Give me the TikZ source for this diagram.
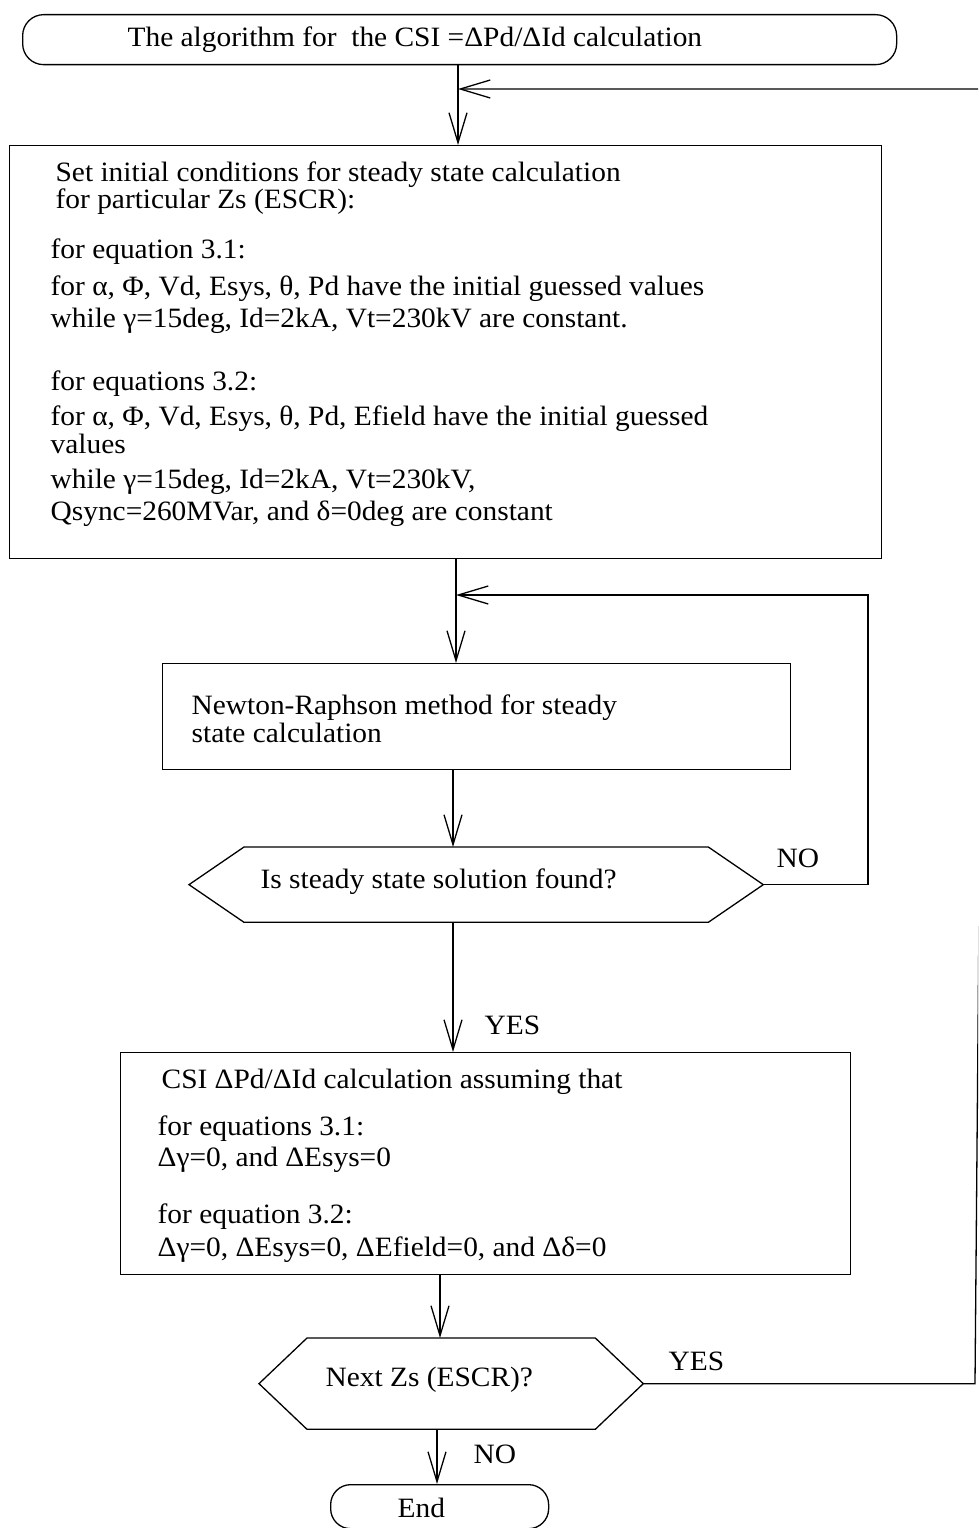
\documentclass[tikz,border=0pt]{standalone}
\usepackage{fontspec}
\setmainfont{Liberation Serif}[FakeStretch=1.05]
\usetikzlibrary{arrows.meta}
\begin{document}
\begin{tikzpicture}[x=1pt,y=-1pt,line width=1.3pt,
  arr/.style={-{Straight Barb[length=30pt,width=18pt]}},
  boxnode/.style={draw,rectangle,inner sep=0pt,anchor=north west},
  termnode/.style={draw,rectangle,rounded corners=21pt,inner sep=0pt,anchor=north west},
  hexnode/.style={rectangle,inner sep=0pt,anchor=north west},
  txt/.style={anchor=base west,inner sep=0pt,font=\fontsize{28}{30}\selectfont}]
\useasboundingbox (0,0) rectangle (978,1528);
\clip (0,0) rectangle (978,1528);

% start terminal
\node[termnode,minimum width=874pt,minimum height=50pt] (start) at (22,14) {};
\node[txt] (starttxt) at (127,47) {The algorithm for\ \ the CSI =ΔPd/ΔId calculation};

% initial conditions box
\node[boxnode,minimum width=872pt,minimum height=413pt] (setbox) at (9,145) {};
\foreach \yy/\xx/\tx [count=\i] in {
  181/55/{Set initial conditions for steady state calculation},
  208/55/{for particular Zs (ESCR):},
  258/50/{for equation 3.1:},
  295/50/{for α, Φ, Vd, Esys, θ, Pd have the initial guessed values},
  327/50/{while γ=15deg, Id=2kA, Vt=230kV are constant.},
  390/50/{for equations 3.2:},
  425/50/{for α, Φ, Vd, Esys, θ, Pd, Efield have the initial guessed},
  453/50/{values},
  488/50/{while γ=15deg, Id=2kA, Vt=230kV,},
  520/50/{Qsync=260MVar, and δ=0deg are constant}}
  \node[txt] (set\i) at (\xx,\yy) {\tx};

% Newton-Raphson box
\node[boxnode,minimum width=628pt,minimum height=106pt] (nrbox) at (162,663) {};
\node[txt] (nr1) at (191,714) {Newton-Raphson method for steady};
\node[txt] (nr2) at (191,742) {state calculation};

% decision 1
\node[hexnode,minimum width=573pt,minimum height=74pt] (q1) at (189,847) {};
\draw (q1.west) -- ([xshift=55pt]q1.north west) -- ([xshift=-55pt]q1.north east)
  -- (q1.east) -- ([xshift=-55pt]q1.south east) -- ([xshift=55pt]q1.south west) -- cycle;
\node[txt] (q1txt) at (260,888) {Is steady state solution found?};
\node[txt] (no1) at (776,867) {NO};
\node[txt] (yes1) at (484,1034) {YES};

% CSI box
\node[boxnode,minimum width=730pt,minimum height=222pt] (csibox) at (120,1052) {};
\foreach \yy/\xx/\tx [count=\i] in {
  1088/161/{CSI ΔPd/ΔId calculation assuming that},
  1135/157/{for equations 3.1:},
  1166/157/{Δγ=0, and ΔEsys=0},
  1223/157/{for equation 3.2:},
  1256/157/{Δγ=0, ΔEsys=0, ΔEfield=0, and Δδ=0}}
  \node[txt] (csi\i) at (\xx,\yy) {\tx};

% decision 2
\node[hexnode,minimum width=383pt,minimum height=90pt] (q2) at (259,1338) {};
\draw (q2.west) -- ([xshift=48pt]q2.north west) -- ([xshift=-48pt]q2.north east)
  -- (q2.east) -- ([xshift=-48pt]q2.south east) -- ([xshift=48pt]q2.south west) -- cycle;
\node[txt] (q2txt) at (325,1386) {Next Zs (ESCR)?};
\node[txt] (yes2) at (668,1370) {YES};
\node[txt] (no2) at (473,1463) {NO};

% end terminal
\node[termnode,rounded corners=20pt,minimum width=218pt,minimum height=44pt] (end) at (330,1484) {};
\node[txt] (endtxt) at (397,1517) {End};

% connectors
\coordinate (xa) at (458,0);
\coordinate (xb) at (456,0);
\coordinate (xc) at (453,0);
\coordinate (xd) at (440,0);
\coordinate (xe) at (437,0);
\coordinate (fb) at (986,89);
\coordinate (rx) at (975,0);
\coordinate (loop1) at (868,595);

\draw[arr] (start.south -| xa) -- (setbox.north -| xa);
\draw[arr] (setbox.south -| xb) -- (nrbox.north -| xb);
\draw[arr] (nrbox.south -| xc) -- (q1.north -| xc);
\draw[arr] (q1.east) -| (loop1) -- (loop1 -| xb);
\draw[arr] (q1.south -| xc) -- (csibox.north -| xc);
\draw[arr] (csibox.south -| xd) -- (q2.north -| xd);
\draw[arr] (q2.east) -- (q2.east -| rx) -- (fb) -- (fb -| xa);
\draw[arr] (q2.south -| xe) -- (end.north -| xe);
\end{tikzpicture}
\end{document}
